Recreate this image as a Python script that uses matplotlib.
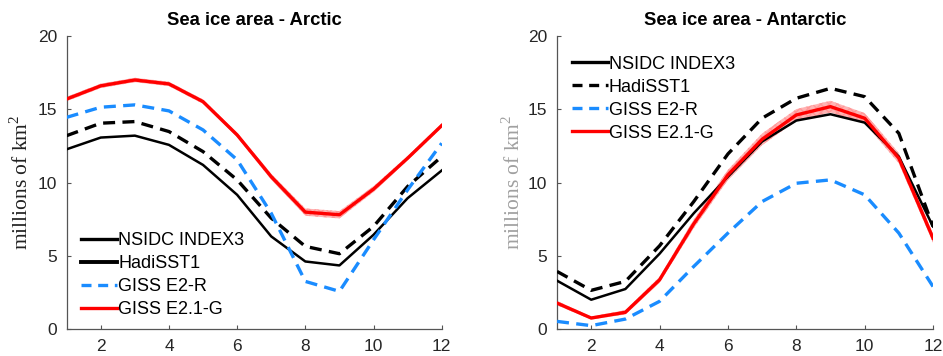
import matplotlib
matplotlib.use('Agg')
import matplotlib.pyplot as plt
from matplotlib.lines import Line2D
import numpy as np

plt.rcParams['font.family'] = ['Liberation Sans', 'DejaVu Sans']
plt.rcParams['mathtext.fontset'] = 'custom'
plt.rcParams['mathtext.rm'] = 'Liberation Serif'

months = np.arange(1, 13)

# Arctic
arc_nsidc = [12.27, 13.07, 13.2, 12.57, 11.2, 9.16, 6.32, 4.61, 4.34, 6.43, 8.93, 10.82]
arc_hadi = [13.2, 14.05, 14.16, 13.48, 12.11, 10.18, 7.57, 5.64, 5.14, 7.0, 9.73, 11.77]
arc_e2r = [14.45, 15.14, 15.3, 14.89, 13.59, 11.55, 7.9, 3.25, 2.57, 6.09, 9.5, 12.68]
arc_e21g = [15.7, 16.6, 17.0, 16.73, 15.52, 13.25, 10.4, 7.98, 7.8, 9.55, 11.66, 13.89]
arc_e21g_spread = [0.15, 0.15, 0.15, 0.15, 0.15, 0.15, 0.2, 0.25, 0.25, 0.2, 0.15, 0.15]

# Antarctic
ant_nsidc = [3.3, 2.0, 2.73, 5.14, 7.9, 10.4, 12.8, 14.23, 14.66, 14.09, 11.77, 7.0]
ant_hadi = [3.93, 2.64, 3.25, 5.68, 8.7, 11.95, 14.39, 15.75, 16.43, 15.86, 13.36, 7.0]
ant_e2r = [0.52, 0.23, 0.68, 1.89, 4.27, 6.55, 8.7, 9.95, 10.18, 9.16, 6.55, 2.9]
ant_e21g = [1.77, 0.75, 1.14, 3.36, 7.18, 10.52, 12.95, 14.61, 15.18, 14.39, 11.66, 6.2]
ant_e21g_spread = [0.15, 0.1, 0.15, 0.2, 0.3, 0.35, 0.4, 0.4, 0.4, 0.35, 0.35, 0.3]

labels = ['NSIDC INDEX3', 'HadiSST1', 'GISS E2-R', 'GISS E2.1-G']
blue = '#1a8cff'
red = '#ff0000'

fig = plt.figure(figsize=(9.43, 3.56), dpi=100)
ax1 = fig.add_axes([0.0707, 0.0758, 0.3977, 0.823])
ax2 = fig.add_axes([0.5907, 0.0758, 0.3987, 0.823])


def draw(ax, nsidc, hadi, e2r, e21g, spread):
    e21g = np.array(e21g)
    spread = np.array(spread)
    ax.fill_between(months, e21g - spread, e21g + spread, color='#ffb3b3',
                    hatch='xxxx', edgecolor='#ff9999', linewidth=0.0, zorder=1)
    ax.plot(months, nsidc, color='black', lw=1.8, zorder=3)
    ax.plot(months, hadi, color='black', lw=2.4, dashes=(3.6, 2.2), zorder=3)
    ax.plot(months, e2r, color=blue, lw=2.4, dashes=(3.6, 2.2), zorder=3)
    ax.plot(months, e21g, color=red, lw=2.4, zorder=4)
    ax.set_xlim(1, 12)
    ax.set_ylim(0, 20)
    ax.set_xticks([2, 4, 6, 8, 10, 12])
    ax.set_yticks([0, 5, 10, 15, 20])
    for s in ['top', 'right']:
        ax.spines[s].set_visible(False)
    for s in ['left', 'bottom']:
        ax.spines[s].set_color('#555555')
        ax.spines[s].set_linewidth(0.9)
    ax.tick_params(direction='in', length=3, width=0.8, color='#555555', pad=7,
                   labelsize=12.5, labelcolor='#262626')


draw(ax1, arc_nsidc, arc_hadi, arc_e2r, arc_e21g, arc_e21g_spread)
draw(ax2, ant_nsidc, ant_hadi, ant_e2r, ant_e21g, ant_e21g_spread)

ax1.set_title('Sea ice area - Arctic', fontsize=13.3, fontweight='bold', pad=8)
ax2.set_title('Sea ice area - Antarctic', fontsize=13.3, fontweight='bold', pad=8)

ax1.set_ylabel('millions of km$^2$', family='Liberation Serif', fontsize=15.5,
               color='#222222', labelpad=3)
ax2.set_ylabel('millions of km$^2$', family='Liberation Serif', fontsize=15.5,
               color='#a0a0a0', labelpad=2)

# the Arctic legend shows HadiSST1 as a solid line, as in the original
h1 = [Line2D([], [], color='black', lw=2.4),
      Line2D([], [], color='black', lw=2.8),
      Line2D([], [], color=blue, lw=2.4, dashes=(3, 2)),
      Line2D([], [], color=red, lw=2.4)]
h2 = [Line2D([], [], color='black', lw=2.4),
      Line2D([], [], color='black', lw=2.4, dashes=(3, 2)),
      Line2D([], [], color=blue, lw=2.4, dashes=(3, 2)),
      Line2D([], [], color=red, lw=2.4)]

leg_kw = dict(frameon=False, fontsize=13, handlelength=2.0, handletextpad=0.05,
              labelspacing=0.33, borderaxespad=0.2)
ax1.legend(h1, labels, loc='lower left', bbox_to_anchor=(0.01, 0.0), **leg_kw)
ax2.legend(h2, labels, loc='upper left', bbox_to_anchor=(0.01, 0.97), **leg_kw)

fig.savefig('out.png', dpi=100)
